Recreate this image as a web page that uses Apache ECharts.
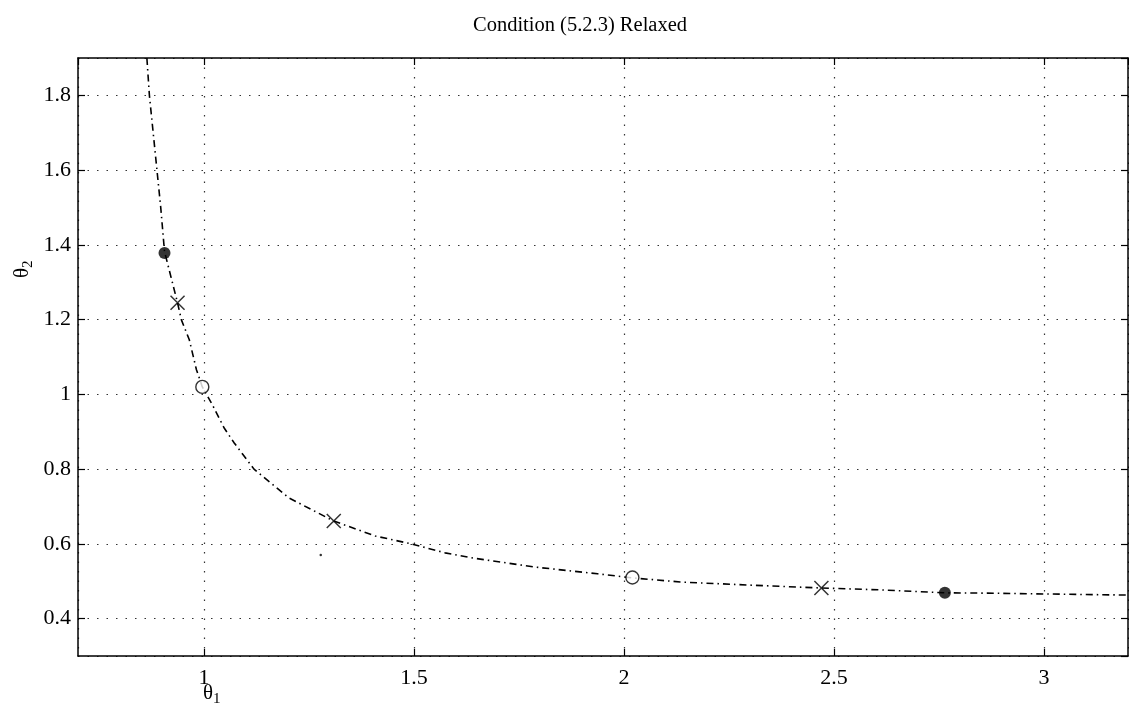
<!DOCTYPE html>
<html>
<head>
<meta charset="utf-8">
<script src="https://cdn.jsdelivr.net/npm/echarts@6/dist/echarts.min.js"></script>
<style>
  html, body { margin: 0; padding: 0; background: #fff; }
  #chart { width: 1129px; height: 715px; }
</style>
</head>
<body>
<div id="chart"></div>
<script>
  // curve (theta1, theta2)
  var curveTheta1 = [0.864, 0.870, 0.879, 0.888, 0.897, 0.906, 0.937, 0.946, 0.965, 0.982, 0.996, 1.020, 1.048, 1.072, 1.119, 1.202, 1.309, 1.408, 1.494, 1.574, 1.641, 1.788, 1.937, 2.020, 2.134, 2.292, 2.470, 2.608, 2.764, 2.885, 3.000, 3.200];
  var curveTheta2 = [1.900, 1.800, 1.700, 1.600, 1.500, 1.382, 1.245, 1.200, 1.146, 1.066, 1.020, 0.972, 0.910, 0.870, 0.800, 0.723, 0.661, 0.621, 0.600, 0.576, 0.562, 0.538, 0.520, 0.509, 0.498, 0.490, 0.482, 0.477, 0.469, 0.468, 0.466, 0.463];

  // markers
  var filledPts = [[0.906, 1.378], [2.764, 0.469]];
  var crossPts = [[0.937, 1.245], [1.309, 0.661], [2.470, 0.482]];
  var openPts = [[0.996, 1.020], [2.020, 0.510]];
  var specks = [[1.278, 0.570]];

  var xTicks = [1, 1.5, 2, 2.5, 3];
  var yTicks = [0.4, 0.6, 0.8, 1, 1.2, 1.4, 1.6, 1.8];

  var serif = 'Liberation Serif';

  var curve = curveTheta1.map(function (x, i) { return [x, curveTheta2[i]]; });

  function tickFmt(list) {
    return function (v) {
      var r = Math.round(v * 100) / 100;
      return list.indexOf(r) >= 0 ? String(r) : '';
    };
  }

  var myChart = echarts.init(document.getElementById('chart'));

  var baseX = {
    type: 'value', min: 0.7, max: 3.2, splitNumber: 5,
    axisLine: { show: true, onZero: false, lineStyle: { color: '#000', width: 1.5 } },
    axisTick: { show: true, inside: true, length: 7, lineStyle: { color: '#000', width: 1.2 } }
  };
  var baseY = {
    type: 'value', min: 0.3, max: 1.9, splitNumber: 8,
    axisLine: { show: true, onZero: false, lineStyle: { color: '#000', width: 1.5 } },
    axisTick: { show: true, inside: true, length: 7, lineStyle: { color: '#000', width: 1.2 } }
  };

  myChart.setOption({
    animation: false,
    backgroundColor: '#fff',
    grid: { left: 78, right: 1, top: 58, bottom: 59 },
    title: {
      text: 'Condition (5.2.3) Relaxed',
      left: 575, top: 10, textAlign: 'center',
      textStyle: { fontFamily: serif, fontSize: 20.5, fontWeight: 'normal', color: '#000' }
    },
    xAxis: [
      Object.assign({}, baseX, {
        position: 'bottom',
        axisLabel: { show: true, margin: 11, fontFamily: serif, fontSize: 22, color: '#000', formatter: tickFmt(xTicks), showMinLabel: false, showMaxLabel: false },
        splitLine: { show: true, lineStyle: { color: '#333', width: 1.2, type: [1.5, 8] } }
      }),
      Object.assign({}, baseX, {
        position: 'top',
        axisLabel: { show: false },
        splitLine: { show: false }
      })
    ],
    yAxis: [
      Object.assign({}, baseY, {
        position: 'left',
        axisLabel: { show: true, margin: 7, fontFamily: serif, fontSize: 22, color: '#000', formatter: tickFmt(yTicks), showMinLabel: false, showMaxLabel: false },
        splitLine: { show: true, lineStyle: { color: '#333', width: 1.2, type: [1.5, 8] } }
      }),
      Object.assign({}, baseY, {
        position: 'right',
        axisLabel: { show: false },
        splitLine: { show: false }
      })
    ],
    graphic: [
      {
        type: 'text', left: 203, top: 683,
        style: {
          text: '{a|θ}{b|1}',
          rich: {
            a: { fontFamily: serif, fontSize: 21, fill: '#000' },
            b: { fontFamily: serif, fontSize: 15, fill: '#000', padding: [12, 0, 0, 0] }
          }
        }
      },
      {
        type: 'text', x: 9, y: 278, rotation: Math.PI / 2,
        style: {
          text: '{a|θ}{b|2}',
          rich: {
            a: { fontFamily: serif, fontSize: 21, fill: '#000' },
            b: { fontFamily: serif, fontSize: 15, fill: '#000', padding: [12, 0, 0, 0] }
          }
        }
      }
    ],
    series: [
      {
        type: 'line',
        data: curve,
        showSymbol: false,
        smooth: false,
        clip: true,
        lineStyle: { color: '#000', width: 1.6, type: [7, 4, 1.5, 4] },
        z: 3
      },
      {
        type: 'scatter',
        data: filledPts,
        symbol: 'circle', symbolSize: 12,
        itemStyle: { color: '#000' },
        z: 5
      },
      {
        type: 'scatter',
        data: openPts,
        symbol: 'circle', symbolSize: 13,
        itemStyle: { color: '#fff', borderColor: '#000', borderWidth: 1.4 },
        z: 5
      },
      {
        type: 'scatter',
        data: crossPts,
        symbol: 'path://M0,0L10,10M10,0L0,10', symbolSize: 14,
        itemStyle: { color: 'none', borderColor: '#000', borderWidth: 1.5 },
        z: 5
      },
      {
        type: 'scatter',
        data: specks,
        symbol: 'circle', symbolSize: 2.5,
        itemStyle: { color: '#000' },
        z: 4
      }
    ]
  });
</script>
</body>
</html>
